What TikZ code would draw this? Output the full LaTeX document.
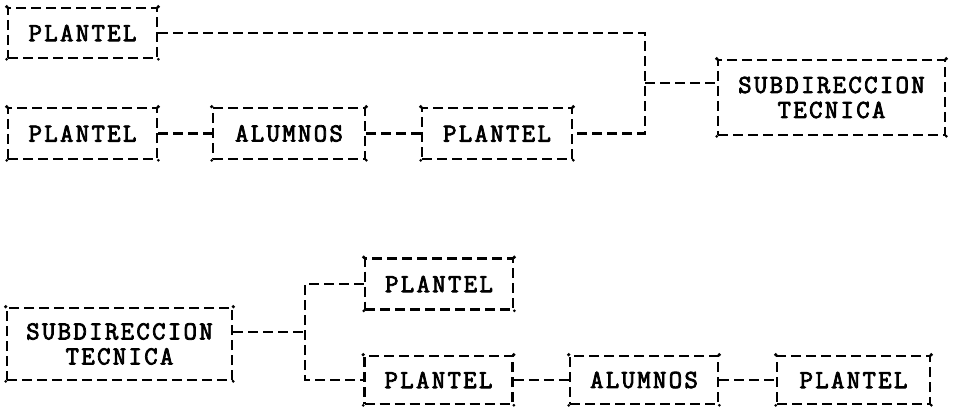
\documentclass[tikz,border=0pt]{standalone}
\usepackage{fontspec}
\newfontfamily\typew[FakeBold=3,LetterSpace=9]{Latin Modern Mono}
\begin{document}
\begin{tikzpicture}[x=1pt,y=-1pt,
  dl/.style={line width=2.6pt, dash pattern=on 10pt off 5pt},
  box/.style={dl, draw, inner sep=0pt, align=center,
    font=\typew\fontsize{26}{25}\selectfont},
  cdot/.style={fill=black}]
\useasboundingbox (0,0) rectangle (955,409);
% top diagram
\node[box, minimum width=149, minimum height=50] (a1) at (82.5,33) {PLANTEL};
\node[box, minimum width=149, minimum height=51] (a2) at (82.5,133.5) {PLANTEL};
\node[box, minimum width=152, minimum height=51] (a3) at (289,133.5) {ALUMNOS};
\node[box, minimum width=150, minimum height=51] (a4) at (497,133.5) {PLANTEL};
\node[box, minimum width=227, minimum height=75] (s1) at (831.5,97.5) {SUBDIRECCION\\TECNICA};
\coordinate (jt) at (645,33);
\coordinate (jm) at (645,83);
\draw[dl] (a1.east) -- (jt) |- (a4.east);
\draw[dl] (a2.east) -- (a3.west);
\draw[dl] (a3.east) -- (a4.west);
\draw[dl] (jm) -- (s1.west |- jm);
% bottom diagram
\node[box, minimum width=225, minimum height=72] (s2) at (119.5,344) {SUBDIRECCION\\TECNICA};
\node[box, minimum width=148, minimum height=51] (b1) at (439,284) {PLANTEL};
\node[box, minimum width=148, minimum height=48] (b2) at (438.5,380) {PLANTEL};
\node[box, minimum width=148, minimum height=48] (b3) at (644,380) {ALUMNOS};
\node[box, minimum width=153, minimum height=48] (b4) at (853.5,380) {PLANTEL};
\coordinate (k) at (305,332);
\draw[dl] (s2.east |- k) -- (k);
\draw[dl] (b1.west) -| (k) |- (b2.west);
\draw[dl] (b2.east) -- (b3.west);
\draw[dl] (b3.east) -- (b4.west);
% corner dots
\foreach \n in {a1,a2,a3,a4,s1,s2,b1,b2,b3,b4}{
  \fill[cdot] (\n.north west) circle (1.8pt);
  \fill[cdot] (\n.north east) circle (1.8pt);
  \fill[cdot] (\n.south west) circle (1.5pt);
  \fill[cdot] (\n.south east) circle (1.5pt);
}
\end{tikzpicture}
\end{document}
